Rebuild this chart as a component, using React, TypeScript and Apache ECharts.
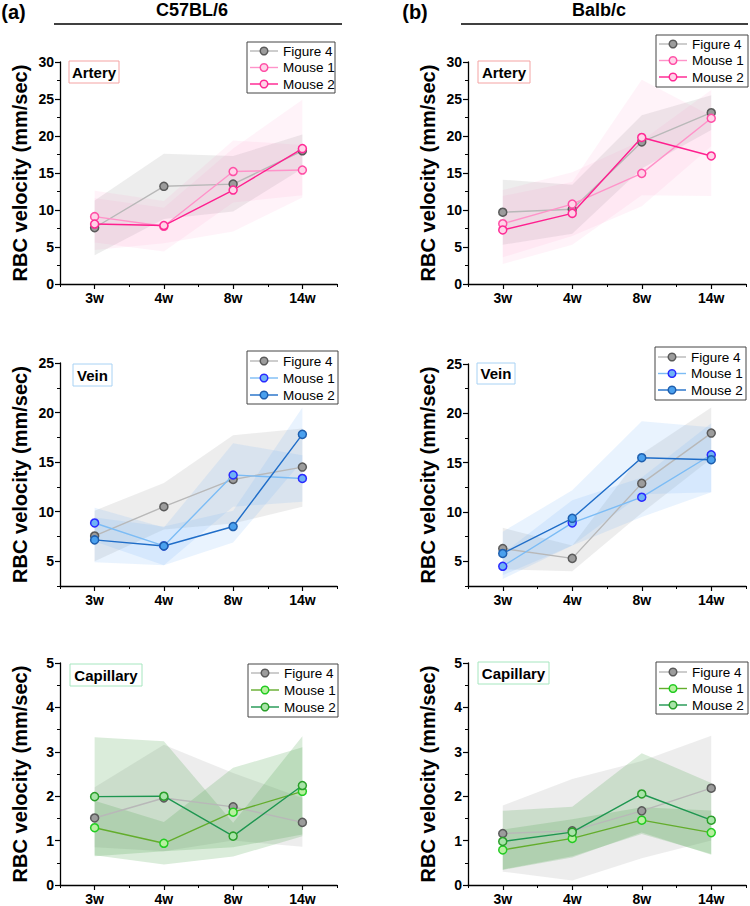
import React, { useEffect, useRef } from "react";
import * as echarts from "echarts";

const FONT = "'Liberation Sans', Arial, Helvetica, sans-serif";

const weeks = ["3w", "4w", "8w", "14w"];
const seriesNames = ["Figure 4", "Mouse 1", "Mouse 2"];

// ---- C57BL/6 Artery ----
const c57ArtFig4 = [7.6, 13.2, 13.5, 18.0];
const c57ArtFig4Low = [3.9, 8.8, 9.8, 15.6];
const c57ArtFig4High = [11.3, 17.6, 17.3, 20.2];
const c57ArtM1 = [9.1, 7.8, 15.2, 15.4];
const c57ArtM1Low = [5.6, 4.4, 11.0, 12.0];
const c57ArtM1High = [12.6, 11.2, 19.4, 18.8];
const c57ArtM2 = [8.1, 7.9, 12.7, 18.3];
const c57ArtM2Low = [4.6, 5.5, 7.1, 11.7];
const c57ArtM2High = [11.6, 10.3, 18.3, 24.9];

// ---- Balb/c Artery ----
const balbArtFig4 = [9.7, 10.1, 19.2, 23.15];
const balbArtFig4Low = [5.3, 6.8, 15.6, 20.8];
const balbArtFig4High = [14.1, 13.4, 22.8, 25.5];
const balbArtM1 = [8.15, 10.8, 14.95, 22.4];
const balbArtM1Low = [3.6, 6.5, 10.5, 18.6];
const balbArtM1High = [12.7, 15.1, 19.4, 26.2];
const balbArtM2 = [7.3, 9.55, 19.8, 17.3];
const balbArtM2Low = [2.7, 5.3, 12.0, 11.9];
const balbArtM2High = [11.9, 13.8, 27.6, 22.7];

// ---- C57BL/6 Vein ----
const c57VeinFig4 = [7.55, 10.5, 13.25, 14.5];
const c57VeinFig4Low = [5.0, 8.2, 8.8, 10.5];
const c57VeinFig4High = [10.1, 12.9, 17.7, 18.4];
const c57VeinM1 = [8.86, 6.54, 13.7, 13.35];
const c57VeinM1Low = [7.0, 4.6, 10.5, 11.0];
const c57VeinM1High = [10.4, 8.4, 16.9, 15.7];
const c57VeinM2 = [7.15, 6.54, 8.5, 17.8];
const c57VeinM2Low = [4.9, 4.6, 6.9, 15.1];
const c57VeinM2High = [9.4, 8.5, 10.1, 20.5];

// ---- Balb/c Vein ----
const balbVeinFig4 = [6.3, 5.3, 12.9, 18.0];
const balbVeinFig4Low = [4.2, 4.0, 9.9, 15.4];
const balbVeinFig4High = [8.4, 6.6, 15.9, 20.6];
const balbVeinM1 = [4.5, 8.9, 11.5, 15.8];
const balbVeinM1Low = [3.2, 6.6, 9.5, 12.0];
const balbVeinM1High = [5.8, 11.2, 13.5, 19.0];
const balbVeinM2 = [5.8, 9.36, 15.5, 15.3];
const balbVeinM2Low = [3.6, 6.6, 11.8, 12.0];
const balbVeinM2High = [8.0, 12.2, 19.2, 18.6];

// ---- C57BL/6 Capillary ----
const c57CapFig4 = [1.51, 1.96, 1.76, 1.41];
const c57CapFig4Low = [0.85, 0.76, 1.0, 0.86];
const c57CapFig4High = [2.2, 3.16, 2.52, 1.96];
const c57CapM1 = [1.29, 0.94, 1.64, 2.11];
const c57CapM1Low = [0.67, 0.46, 0.64, 1.1];
const c57CapM1High = [1.9, 1.42, 2.64, 3.1];
const c57CapM2 = [1.99, 2.0, 1.1, 2.24];
const c57CapM2Low = [0.65, 0.76, 0.85, 1.14];
const c57CapM2High = [3.33, 3.24, 1.4, 3.35];

// ---- Balb/c Capillary ----
const balbCapFig4 = [1.16, 1.22, 1.67, 2.18];
const balbCapFig4Low = [0.3, 0.1, 0.6, 1.0];
const balbCapFig4High = [1.79, 2.39, 2.79, 3.36];
const balbCapM1 = [0.79, 1.05, 1.46, 1.18];
const balbCapM1Low = [0.34, 0.62, 1.18, 0.68];
const balbCapM1High = [1.25, 1.48, 1.75, 1.68];
const balbCapM2 = [0.98, 1.19, 2.05, 1.46];
const balbCapM2Low = [0.35, 0.65, 1.15, 0.7];
const balbCapM2High = [1.67, 1.76, 2.97, 2.3];

const arteryTicks = [0, 5, 10, 15, 20, 25, 30];
const veinTicks = [5, 10, 15, 20, 25];
const capTicks = [0, 1, 2, 3, 4, 5];

const palettes: any = {
  artery: {
    line: ["#b8b8b8", "#ff93c9", "#ff1f8f"],
    fill: ["#9c9c9c", "#ffd3e8", "#ffd3e8"],
    border: ["#5a5a5a", "#ff4fa6", "#ff2a95"],
    band: ["rgba(150,150,150,0.17)", "rgba(255,140,195,0.1)", "rgba(255,140,195,0.1)"],
    box: "#f4a3a3",
  },
  vein: {
    line: ["#b8b8b8", "#7cbcf5", "#1f6dc8"],
    fill: ["#9c9c9c", "#6fb2f5", "#4aa0ee"],
    border: ["#5a5a5a", "#2a2aff", "#1f5fae"],
    band: ["rgba(150,150,150,0.17)", "rgba(110,175,250,0.15)", "rgba(110,175,250,0.15)"],
    box: "#a8d2f4",
  },
  cap: {
    line: ["#b8b8b8", "#63ad2c", "#1e9650"],
    fill: ["#9c9c9c", "#b8f0a0", "#a8e4a8"],
    border: ["#5a5a5a", "#22cc22", "#2a9f2a"],
    band: ["rgba(150,150,150,0.17)", "rgba(70,160,70,0.2)", "rgba(70,160,70,0.2)"],
    box: "#a6e6bf",
  },
};

const panels: any[] = [
  {
    grid: { left: 60, top: 62, width: 277, height: 222 },
    min: 0, max: 30, interval: 5, ticks: arteryTicks, kind: "artery", label: "Artery",
    labelBox: [69, 61, 50, 22], legend: [247, 42, 88, 51], rows: [51, 67.5, 84],
    data: [
      [c57ArtFig4, c57ArtFig4Low, c57ArtFig4High],
      [c57ArtM1, c57ArtM1Low, c57ArtM1High],
      [c57ArtM2, c57ArtM2Low, c57ArtM2High],
    ],
  },
  {
    grid: { left: 468, top: 62, width: 278, height: 222 },
    min: 0, max: 30, interval: 5, ticks: arteryTicks, kind: "artery", label: "Artery",
    labelBox: [478, 61, 52, 22], legend: [656, 35, 92, 52], rows: [44, 60.5, 77],
    data: [
      [balbArtFig4, balbArtFig4Low, balbArtFig4High],
      [balbArtM1, balbArtM1Low, balbArtM1High],
      [balbArtM2, balbArtM2Low, balbArtM2High],
    ],
  },
  {
    grid: { left: 60, top: 363, width: 277, height: 223 },
    min: 2.5, max: 25, interval: 2.5, ticks: veinTicks, kind: "vein", label: "Vein",
    labelBox: [73, 364, 39, 22], legend: [247, 351, 91, 53], rows: [361, 378, 395],
    data: [
      [c57VeinFig4, c57VeinFig4Low, c57VeinFig4High],
      [c57VeinM1, c57VeinM1Low, c57VeinM1High],
      [c57VeinM2, c57VeinM2Low, c57VeinM2High],
    ],
  },
  {
    grid: { left: 468, top: 364, width: 278, height: 222 },
    min: 2.5, max: 25, interval: 2.5, ticks: veinTicks, kind: "vein", label: "Vein",
    labelBox: [477, 363, 38, 21], legend: [655, 347, 91, 53], rows: [357, 373.5, 390],
    data: [
      [balbVeinFig4, balbVeinFig4Low, balbVeinFig4High],
      [balbVeinM1, balbVeinM1Low, balbVeinM1High],
      [balbVeinM2, balbVeinM2Low, balbVeinM2High],
    ],
  },
  {
    grid: { left: 60, top: 663, width: 277, height: 223 },
    min: 0, max: 5, interval: 1, ticks: capTicks, kind: "cap", label: "Capillary",
    labelBox: [70, 664, 72, 22], legend: [248, 664, 90, 53], rows: [673, 690, 707],
    data: [
      [c57CapFig4, c57CapFig4Low, c57CapFig4High],
      [c57CapM1, c57CapM1Low, c57CapM1High],
      [c57CapM2, c57CapM2Low, c57CapM2High],
    ],
  },
  {
    grid: { left: 468, top: 663, width: 278, height: 223 },
    min: 0, max: 5, interval: 1, ticks: capTicks, kind: "cap", label: "Capillary",
    labelBox: [478, 662, 71, 22], legend: [656, 662, 92, 52], rows: [672, 688.5, 705],
    data: [
      [balbCapFig4, balbCapFig4Low, balbCapFig4High],
      [balbCapM1, balbCapM1Low, balbCapM1High],
      [balbCapM2, balbCapM2Low, balbCapM2High],
    ],
  },
];

function buildOption() {
  const grid: any[] = [];
  const xAxis: any[] = [];
  const yAxis: any[] = [];
  const series: any[] = [];
  const graphics: any[] = [];

  panels.forEach((p, pi) => {
    const pal = palettes[p.kind];
    grid.push({ ...p.grid, containLabel: false });
    const xMain = xAxis.length;
    xAxis.push({
      type: "category", gridIndex: pi, data: weeks, position: "bottom", boundaryGap: true,
      axisLine: { show: true, lineStyle: { color: "#000", width: 1.3 } },
      axisTick: { show: true, alignWithLabel: true, length: 5, lineStyle: { color: "#000", width: 1.2 } },
      axisLabel: { color: "#000", fontWeight: "bold", fontSize: 14, fontFamily: FONT, margin: 7 },
      splitLine: { show: false },
    });
    xAxis.push({
      type: "category", gridIndex: pi, data: weeks, position: "bottom", boundaryGap: true,
      axisLine: { show: false },
      axisTick: { show: true, alignWithLabel: false, length: 3, lineStyle: { color: "#000", width: 1 } },
      axisLabel: { show: false },
      splitLine: { show: false },
    });
    const yMain = yAxis.length;
    const isVein = p.kind === "vein";
    yAxis.push({
      type: "value", gridIndex: pi, position: "left", min: p.min, max: p.max, interval: p.interval,
      axisLine: { show: true, lineStyle: { color: "#000", width: 1.3 } },
      axisTick: isVein
        ? { show: true, length: 3, lineStyle: { color: "#000", width: 1 } }
        : { show: true, length: 5, lineStyle: { color: "#000", width: 1.2 } },
      minorTick: isVein
        ? { show: false }
        : { show: true, splitNumber: 2, length: 3, lineStyle: { color: "#000", width: 1 } },
      splitLine: { show: false },
      minorSplitLine: { show: false },
      axisLabel: {
        color: "#000", fontWeight: "bold", fontSize: 14, fontFamily: FONT, margin: 6,
        formatter: (v: number) => (p.ticks.some((t: number) => Math.abs(t - v) < 1e-6) ? String(v) : ""),
      },
      name: "RBC velocity (mm/sec)", nameLocation: "middle", nameRotate: 90, nameGap: 30,
      nameTextStyle: { fontSize: 20, fontWeight: "bold", color: "#000", fontFamily: FONT },
    });
    if (isVein) {
      yAxis.push({
        type: "value", gridIndex: pi, position: "left", min: p.min, max: p.max, interval: p.interval,
        axisLine: { show: false },
        axisTick: { show: true, length: 5, customValues: p.ticks, lineStyle: { color: "#000", width: 1.2 } },
        axisLabel: { show: false },
        splitLine: { show: false },
      });
    }

    // bands
    p.data.forEach((d: number[][], k: number) => {
      const [, low, high] = d;
      const stack = `band-${pi}-${k}`;
      series.push({
        type: "line", xAxisIndex: xMain, yAxisIndex: yMain, data: low, stack,
        symbol: "none", lineStyle: { width: 0, opacity: 0 }, silent: true, z: 1,
        emphasis: { disabled: true },
      });
      series.push({
        type: "line", xAxisIndex: xMain, yAxisIndex: yMain,
        data: high.map((h, i) => +(h - low[i]).toFixed(4)), stack,
        symbol: "none", lineStyle: { width: 0, opacity: 0 }, silent: true, z: 1,
        areaStyle: { color: pal.band[k], opacity: 1 },
        emphasis: { disabled: true },
      });
    });
    // lines
    p.data.forEach((d: number[][], k: number) => {
      series.push({
        type: "line", name: seriesNames[k], xAxisIndex: xMain, yAxisIndex: yMain, data: d[0],
        symbol: "circle", symbolSize: 8, showSymbol: true, z: 3 + k,
        lineStyle: { color: pal.line[k], width: 1.4 },
        itemStyle: { color: pal.fill[k], borderColor: pal.border[k], borderWidth: 1.5 },
        emphasis: { disabled: true },
      });
    });

    // label box
    const [bx, by, bw, bh] = p.labelBox;
    graphics.push({
      type: "rect", z: 10, shape: { x: bx, y: by, width: bw, height: bh },
      style: { fill: "#fff", stroke: pal.box, lineWidth: 1 },
    });
    graphics.push({
      type: "text", z: 11, x: bx + bw / 2, y: by + bh / 2,
      style: { text: p.label, fontSize: 15, fontWeight: "bold", fontFamily: FONT, fill: "#000", align: "center", verticalAlign: "middle" },
    });
    // legend
    const [lx, ly, lw, lh] = p.legend;
    graphics.push({
      type: "rect", z: 10, shape: { x: lx, y: ly, width: lw, height: lh },
      style: { fill: "#fff", stroke: "#444", lineWidth: 1 },
    });
    seriesNames.forEach((n, k) => {
      const ry = p.rows[k];
      graphics.push({
        type: "line", z: 11, shape: { x1: lx + 3, y1: ry, x2: lx + 31, y2: ry },
        style: { stroke: pal.line[k], lineWidth: 1.4 },
      });
      graphics.push({
        type: "circle", z: 12, shape: { cx: lx + 17, cy: ry, r: 3.8 },
        style: { fill: pal.fill[k], stroke: pal.border[k], lineWidth: 1.5 },
      });
      graphics.push({
        type: "text", z: 12, x: lx + 36, y: ry,
        style: { text: n, fontSize: 13.5, fontFamily: FONT, fill: "#000", align: "left", verticalAlign: "middle" },
      });
    });
  });

  // headers
  const headers = [
    { tag: "(a)", tagX: 13.5, strain: "C57BL/6", strainX: 192, x1: 54, x2: 342 },
    { tag: "(b)", tagX: 415, strain: "Balb/c", strainX: 599, x1: 461, x2: 748 },
  ];
  headers.forEach((h) => {
    graphics.push({
      type: "text", z: 10, x: h.tagX, y: 12,
      style: { text: h.tag, fontSize: 20, fontWeight: "bold", fontFamily: FONT, fill: "#000", align: "center", verticalAlign: "middle" },
    });
    graphics.push({
      type: "text", z: 10, x: h.strainX, y: 10,
      style: { text: h.strain, fontSize: 18, fontWeight: "bold", fontFamily: FONT, fill: "#000", align: "center", verticalAlign: "middle" },
    });
    graphics.push({
      type: "line", z: 10, shape: { x1: h.x1, y1: 24, x2: h.x2, y2: 24 },
      style: { stroke: "#000", lineWidth: 1.3 },
    });
  });

  return {
    animation: false,
    backgroundColor: "#fff",
    grid, xAxis, yAxis, series,
    graphic: { elements: graphics },
  };
}

export default function App() {
  const ref = useRef<HTMLDivElement>(null);
  useEffect(() => {
    if (!ref.current) return;
    const chart = echarts.init(ref.current, undefined, { renderer: "svg" });
    chart.setOption(buildOption() as any);
    return () => chart.dispose();
  }, []);
  return (
    <div
      ref={ref}
      style={{ position: "absolute", left: 0, top: 0, width: 750, height: 906, background: "#fff" }}
    />
  );
}
